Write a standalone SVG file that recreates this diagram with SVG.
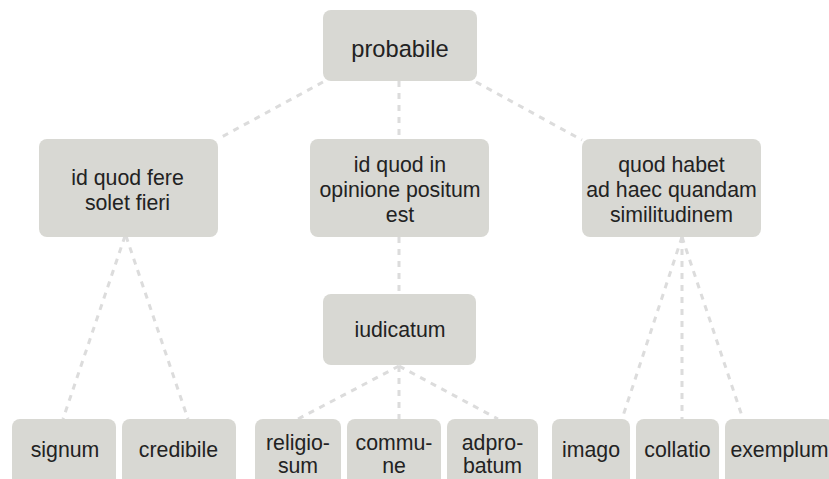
<svg xmlns="http://www.w3.org/2000/svg" width="829" height="479" viewBox="0 0 829 479">
<style>
.box{fill:#d8d8d3}
.t{font-family:"Liberation Sans",Arial,sans-serif;font-size:21.3px;fill:#222;text-anchor:middle}
.c{stroke:#dcdcdc;stroke-width:3;stroke-dasharray:6 6;fill:none}
</style>
<rect width="829" height="479" fill="#fff"/>
<g id="connectors">
<line class="c" x1="323" y1="82" x2="218" y2="139"/>
<line class="c" x1="399" y1="81" x2="399" y2="139"/>
<line class="c" x1="476" y1="82" x2="582" y2="140"/>
<line class="c" x1="125" y1="236" x2="63" y2="419"/>
<line class="c" x1="126" y1="236" x2="188" y2="419"/>
<line class="c" x1="399" y1="237" x2="399" y2="294"/>
<line class="c" x1="399" y1="366" x2="298" y2="419"/>
<line class="c" x1="399" y1="366" x2="399" y2="419"/>
<line class="c" x1="399" y1="366" x2="498" y2="419"/>
<line class="c" x1="682" y1="237" x2="622" y2="419"/>
<line class="c" x1="682" y1="237" x2="682" y2="419"/>
<line class="c" x1="682" y1="237" x2="743" y2="419"/>
</g>
<g id="probabile"><rect class="box" x="323" y="10" width="154" height="71" rx="8"/><text class="t" x="400" y="56.5" style="font-size:23.7px">probabile</text></g>
<g id="fere"><rect class="box" x="39" y="139" width="179" height="98" rx="8"/><text class="t" x="127.5" y="184.5">id quod fere</text><text class="t" x="127.5" y="209.5">solet fieri</text></g>
<g id="opinione"><rect class="box" x="310" y="139" width="179" height="98" rx="8"/><text class="t" x="400" y="171.5">id quod in</text><text class="t" x="400" y="196.5">opinione positum</text><text class="t" x="400" y="221.5">est</text></g>
<g id="similitudinem"><rect class="box" x="582" y="139" width="179" height="98" rx="8"/><text class="t" x="671.5" y="171.5">quod habet</text><text class="t" x="671.5" y="196.5">ad haec quandam</text><text class="t" x="671.5" y="221.5">similitudinem</text></g>
<g id="iudicatum"><rect class="box" x="323" y="294" width="153" height="71" rx="8"/><text class="t" x="400" y="337">iudicatum</text></g>
<g id="signum"><rect class="box" x="12" y="419" width="104" height="71" rx="8"/><text class="t" x="65" y="457">signum</text></g>
<g id="credibile"><rect class="box" x="122" y="419" width="114" height="71" rx="8"/><text class="t" x="178.5" y="457">credibile</text></g>
<g id="religiosum"><rect class="box" x="255" y="419" width="86" height="71" rx="8"/><text class="t" x="298" y="450">religio-</text><text class="t" x="298" y="473">sum</text></g>
<g id="commune"><rect class="box" x="347" y="419" width="94" height="71" rx="8"/><text class="t" x="394" y="450">commu-</text><text class="t" x="394" y="473">ne</text></g>
<g id="adprobatum"><rect class="box" x="447" y="419" width="91" height="71" rx="8"/><text class="t" x="492.5" y="450">adpro-</text><text class="t" x="492.5" y="473">batum</text></g>
<g id="imago"><rect class="box" x="552" y="419" width="78" height="71" rx="8"/><text class="t" x="591" y="457">imago</text></g>
<g id="collatio"><rect class="box" x="636" y="419" width="83" height="71" rx="8"/><text class="t" x="677.5" y="457">collatio</text></g>
<g id="exemplum"><rect class="box" x="725" y="419" width="109" height="71" rx="8"/><text class="t" x="779.5" y="457">exemplum</text></g>
</svg>
